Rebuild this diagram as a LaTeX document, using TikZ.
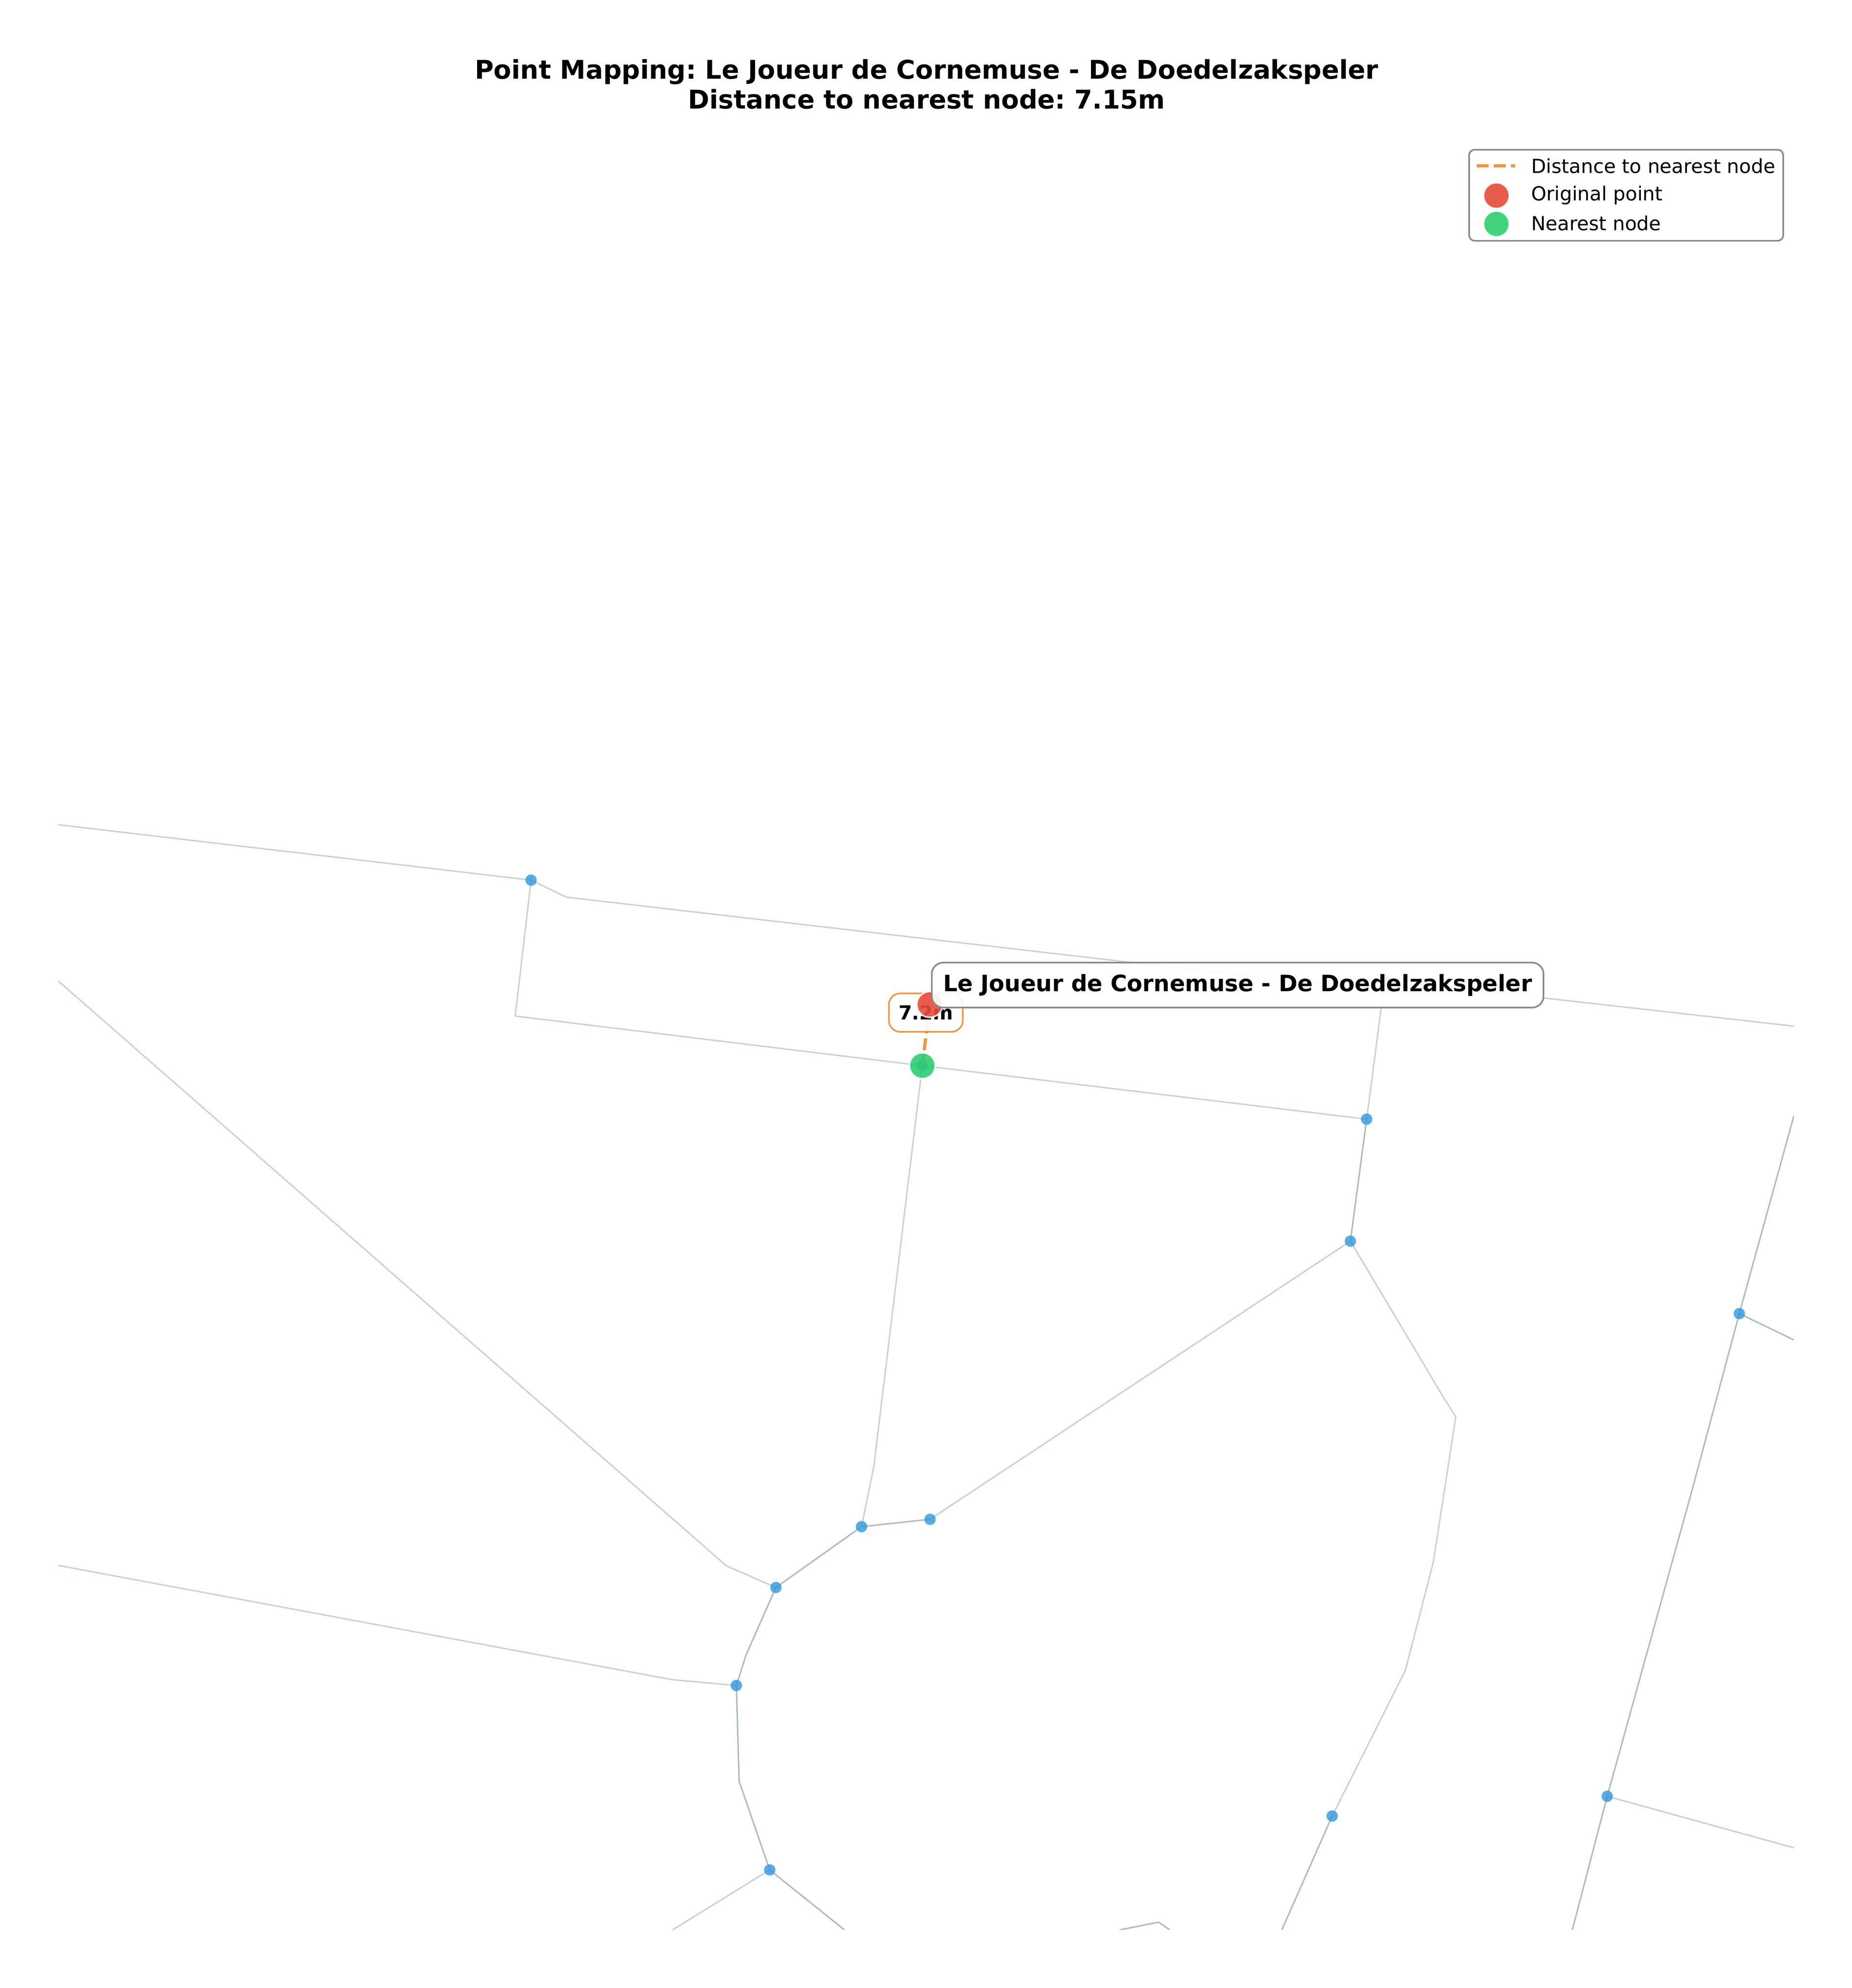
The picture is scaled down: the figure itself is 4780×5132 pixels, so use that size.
\documentclass[tikz,border=0pt]{standalone}
\usepackage{fontspec}
\setmainfont{DejaVu Sans}
\usetikzlibrary{backgrounds}
\frenchspacing

\definecolor{roadgray}{HTML}{95A5A6}
\definecolor{junctionblue}{HTML}{3498DB}
\definecolor{pointred}{HTML}{E74C3C}
\definecolor{nearestgreen}{HTML}{2ECC71}
\definecolor{distorange}{HTML}{E67E22}
\definecolor{framegray}{HTML}{888888}

\tikzstyle{road}     = [draw=roadgray,line width=0.9pt,opacity=0.5,line join=round]
\tikzstyle{mainroad} = [draw=roadgray,line width=0.9pt,opacity=0.75,line join=round]
\tikzstyle{junction} = [circle,fill=junctionblue,opacity=0.82,inner sep=0pt,minimum size=7pt]
\tikzstyle{marker}   = [circle,draw=white,line width=1pt,fill opacity=0.9,draw opacity=0.85,inner sep=0pt,minimum size=16pt]
\tikzstyle{distline} = [draw=distorange,line width=2pt,opacity=0.8,dash pattern=on 7.4pt off 3.2pt]
\tikzstyle{legendtext} = [anchor=west,inner sep=0pt,font=\fontsize{12}{14}\selectfont]

\begin{document}
\begin{tikzpicture}[x=0.24pt,y=-0.24pt]
  \useasboundingbox (0,0) rectangle (4780,5132);

  % junctions
  \node[junction] at (1371,2272) (nw)    {};
  \node[junction] at (3575,2530) (ne)    {};
  \node[junction] at (2381,2751) (mid)   {};
  \node[junction] at (3528,2889) (east)  {};
  \node[junction] at (3486,3204) (fork)  {};
  \node[junction] at (4490,3391) (far)   {};
  \node[junction] at (2401,3922) (sq)    {};
  \node[junction] at (2224,3941) (cross) {};
  \node[junction] at (2003,4098) (west)  {};
  \node[junction] at (1901,4351) (sw)    {};
  \node[junction] at (1987,4827) (south) {};
  \node[junction] at (3439,4688) (curve) {};
  \node[junction] at (4149,4637) (lower) {};

  % streets go behind everything, cut off at the map frame
  \begin{scope}[on background layer]
    \clip (150,0) rectangle (4631,4982);
    \coordinate (topbend)  at (1462,2316);
    \coordinate (topend)   at (3400,2540);
    \coordinate (boxbend)  at (1330,2623);
    \coordinate (midbend)  at (2256,3784);
    \coordinate (diagbend) at (1875,4042);
    \coordinate (swbend)   at (1926,4272);
    \coordinate (lanebend) at (1735,4336);
    \coordinate (sbend)    at (1908,4598);
    \coordinate (apex)     at (2991,4962);
    \coordinate (c1) at (3725,3605);
    \coordinate (c2) at (3758,3658);
    \coordinate (c3) at (3700,4033);
    \coordinate (c4) at (3628,4312);

    \draw[road] (150,2129) -- (nw.center) -- (topbend) -- (topend) -- (ne.center) -- (4631,2649);
    \draw[road] (nw.center) -- (boxbend) -- (mid.center) -- (east.center);
    \draw[road] (mid.center) -- (midbend) -- (cross.center);
    \draw[road] (ne.center) -- (east.center);
    \draw[road] (sq.center) -- (fork.center);
    \draw[road] (fork.center) -- (c1) -- (c2) -- (c3) -- (c4) -- (curve.center);
    \draw[road] (150,2532) -- (diagbend) -- (west.center);
    \draw[road] (150,4041) -- (lanebend) -- (sw.center);
    \draw[road] (south.center) -- (1736,4982);
    \draw[road] (lower.center) -- (4631,4770);

    \draw[mainroad] (east.center) -- (fork.center);
    \draw[mainroad] (sq.center) -- (cross.center) -- (west.center) -- (swbend) -- (sw.center) -- (sbend) -- (south.center) -- (2180,4982);
    \draw[mainroad] (2891,4982) -- (apex) -- (3020,4982);
    \draw[mainroad] (curve.center) -- (3309,4982);
    \draw[mainroad] (4631,2880) -- (far.center) -- (4368,3847) -- (lower.center) -- (4059,4982);
    \draw[mainroad] (far.center) -- (4631,3459);
  \end{scope}

  % distance, its label and the two points
  \coordinate (pointpos) at (2400,2593);
  \draw[distline] (pointpos) -- (mid.center);
  \node[draw=distorange,line width=1pt,draw opacity=0.8,fill=white,fill opacity=0.9,text opacity=1,
        rounded corners=7pt,minimum width=45.8pt,minimum height=23.8pt,inner sep=0pt,
        font=\bfseries\fontsize{12}{14}\selectfont] at (2390,2614) (distlabel) {7.2m};
  \node[marker,fill=pointred] at (pointpos) (point) {};
  \node[marker,fill=nearestgreen] at (mid.center) (nearest) {};
  \node[draw=framegray,line width=1pt,fill=white,fill opacity=0.9,text opacity=1,
        rounded corners=7pt,minimum width=379pt,minimum height=27.8pt,inner sep=0pt,
        font=\bfseries\fontsize{14}{17}\selectfont] at (3195,2543) (pointlabel) {Le Joueur de Cornemuse - De Doedelzakspeler};

  \node[align=center,inner sep=0pt,font=\bfseries\fontsize{16}{18.5}\selectfont] at (2392,217) (title)
    {Point Mapping: Le Joueur de Cornemuse - De Doedelzakspeler\\Distance to nearest node: 7.15m};

  % legend
  \node[draw=framegray,line width=1pt,fill=white,rounded corners=3.5pt,minimum width=194.6pt,minimum height=56.4pt,inner sep=0pt] at (4198,504) (legend) {};
  \coordinate (dashstart) at (3812,428);
  \coordinate (dashend)   at (3912,428);
  \draw[distline] (dashstart) -- (dashend);
  \node[marker,fill=pointred] at (3863,505) (legpoint) {};
  \node[marker,fill=nearestgreen] at (3863,578) (legnearest) {};
  \node[legendtext] at (3952,428) (legdist) {Distance to nearest node};
  \node[legendtext] at (3952,504) (legorig) {Original point};
  \node[legendtext] at (3952,576) (legnear) {Nearest node};
\end{tikzpicture}
\end{document}
